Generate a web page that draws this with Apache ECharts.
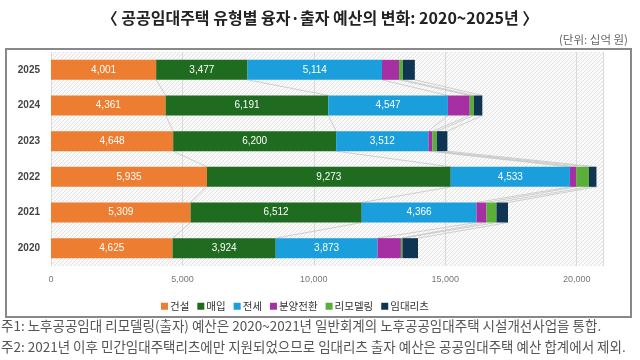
<!DOCTYPE html>
<html>
<head>
<meta charset="utf-8">
<script src="https://cdn.jsdelivr.net/npm/echarts@6/dist/echarts.min.js"></script>
<style>
html,body{margin:0;padding:0;background:#fff;}
#c{width:640px;height:360px;}
</style>
</head>
<body>
<div id="c"></div>
<script>
const years = ['2020','2021','2022','2023','2024','2025'];
const seriesNames = ['건설','매입','전세','분양전환','리모델링','임대리츠'];
const construction = [4625, 5309, 5935, 4648, 4361, 4001];
const purchase     = [3924, 6512, 9273, 6200, 6191, 3477];
const jeonse       = [3873, 4366, 4533, 3512, 4547, 5114];
const conversion   = [890, 375, 240, 150, 830, 650];
const remodeling   = [60, 385, 485, 170, 160, 150];
const reits        = [590, 440, 285, 400, 320, 450];
const xTicks = [0, 5000, 10000, 15000, 20000];
const colors = ['#ED7D31','#1F6B1F','#1A9FDC','#A52FA3','#5BAE3A','#0F3553'];
const allSeries = [construction, purchase, jeonse, conversion, remodeling, reits];

const FONT = '"Liberation Sans","Noto Sans CJK KR",sans-serif';
const KFONT = '"Noto Sans CJK KR","Liberation Sans",sans-serif';
const BAR_RATIO = 0.56;

const connectors = [];
for (let i = 0; i < years.length - 1; i++) {
  let c1 = 0, c2 = 0;
  for (let k = 0; k < allSeries.length; k++) {
    c1 += allSeries[k][i];
    c2 += allSeries[k][i + 1];
    connectors.push([c1, i, c2, i + 1]);
  }
}

const pc = document.createElement('canvas');
pc.width = 4; pc.height = 4;
const pctx = pc.getContext('2d');
pctx.fillStyle = '#fafafa'; pctx.fillRect(0,0,4,4);
pctx.strokeStyle = '#e2e2e2'; pctx.lineWidth = 1;
pctx.beginPath(); pctx.moveTo(0,4); pctx.lineTo(4,0); pctx.stroke();

const chart = echarts.init(document.getElementById('c'), null, {renderer:'canvas'});

const barSeries = seriesNames.map((name, k) => ({
  name: name,
  type: 'bar',
  stack: 'total',
  barWidth: (BAR_RATIO*100) + '%',
  data: allSeries[k],
  itemStyle: {color: colors[k]},
  z: 3,
  label: {
    show: k < 3,
    position: 'inside',
    color: '#fff',
    fontFamily: FONT,
    fontSize: 10,
    formatter: p => p.value.toLocaleString('en-US')
  }
}));

chart.setOption({
  animation: false,
  backgroundColor: '#fff',
  title: [{
    text: '〈 공공임대주택 유형별 융자·출자 예산의 변화: 2020~2025년 〉',
    left: 'center', top: 5,
    textStyle: {fontFamily: KFONT, fontSize: 16, fontWeight: 'bold', color: '#222'}
  }, {
    text: '(단위: 십억 원)',
    right: 7, top: 29,
    textStyle: {fontFamily: KFONT, fontSize: 11.5, fontWeight: 'normal', color: '#666'}
  }],
  graphic: [{
    type: 'rect',
    shape: {x: 6, y: 49, width: 625, height: 268},
    style: {fill: 'none', stroke: '#888', lineWidth: 2},
    silent: true, z: 0
  }, {
    type: 'text', left: 1, top: 319,
    style: {text: '주1: 노후공공임대 리모델링(출자) 예산은 2020~2021년 일반회계의 노후공공임대주택 시설개선사업을 통합.',
      font: '13.5px "Noto Sans CJK KR", sans-serif', fill: '#555'}
  }, {
    type: 'text', left: 1, top: 340,
    style: {text: '주2: 2021년 이후 민간임대주택리츠에만 지원되었으므로 임대리츠 출자 예산은 공공임대주택 예산 합계에서 제외.',
      font: '13.5px "Noto Sans CJK KR", sans-serif', fill: '#555'}
  }],
  legend: {
    data: seriesNames,
    left: 156, top: 296,
    icon: 'rect', itemWidth: 7, itemHeight: 7, itemGap: 8,
    textStyle: {fontFamily: KFONT, fontSize: 10.5, color: '#333', padding: [0,0,0,-3]}
  },
  grid: {
    left: 51, right: 37, top: 52, bottom: 94,
    show: true, borderWidth: 0,
    backgroundColor: {image: pc, repeat: 'repeat'}
  },
  xAxis: {
    type: 'value', min: 0, max: 21000, interval: 5000,
    axisLine: {show: false}, axisTick: {show: false},
    splitLine: {show: true, lineStyle: {color: '#d9d9d9', width: 1}},
    axisLabel: {
      color: '#777', fontFamily: FONT, fontSize: 9, margin: 9,
      showMaxLabel: false,
      formatter: v => xTicks.includes(v) ? v.toLocaleString('en-US') : ''
    }
  },
  yAxis: {
    type: 'category', data: years,
    axisLine: {show: false}, axisTick: {show: false},
    axisLabel: {color: '#444', fontFamily: FONT, fontSize: 10, fontWeight: 'bold', margin: 11}
  },
  series: barSeries.concat([{
    type: 'custom',
    name: 'connectors',
    silent: true,
    z: 1,
    data: connectors,
    encode: {x: [0, 2], y: [1, 3]},
    renderItem: function (params, api) {
      const p1 = api.coord([api.value(0), api.value(1)]);
      const p2 = api.coord([api.value(2), api.value(3)]);
      const bandH = api.size([0, 1])[1];
      const half = bandH * BAR_RATIO / 2;
      return {
        type: 'line',
        shape: {x1: p1[0], y1: p1[1] - half, x2: p2[0], y2: p2[1] + half},
        style: {stroke: '#c4c4c4', lineWidth: 0.8}
      };
    }
  }])
});
</script>
</body>
</html>
